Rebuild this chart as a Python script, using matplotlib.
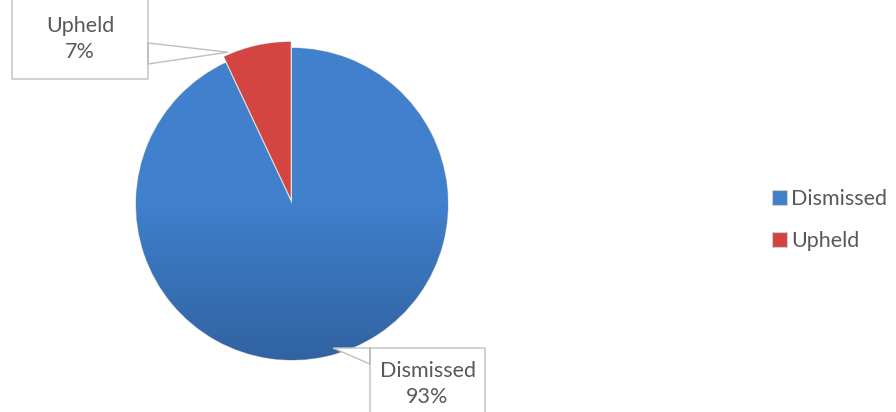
import numpy as np
import matplotlib.pyplot as plt
from matplotlib.patches import Polygon

# データ
labels = ['Dismissed', 'Upheld']
values = [93, 7]
colors = ['#4080CC', '#D44542']
dark = ['#30619F', '#A82D2B']

W, H = 896, 412
fig = plt.figure(figsize=(W / 100, H / 100), dpi=100)
ax = fig.add_axes([0, 0, 1, 1])

cx, cy, r = 292, H - 204, 156
wedges, _ = ax.pie(values, colors=colors, startangle=90, counterclock=False,
                   center=(cx, cy), radius=r, explode=[0, 0.04 * r],
                   wedgeprops=dict(edgecolor='#cfcfcf', linewidth=0.8))

# 縦グラデーションでそれっぽく
grad = np.linspace(0, 1, 256).reshape(-1, 1)
for w, c1, c2 in zip(wedges, colors, dark):
    cmap = plt.matplotlib.colors.LinearSegmentedColormap.from_list('g', [c2, c1, c1])
    im = ax.imshow(grad, cmap=cmap, origin='lower', aspect='auto',
                   extent=(cx - r - 10, cx + r + 10, cy - r - 10, cy + r + 15), zorder=1.5)
    im.set_clip_path(w)

ax.set_xlim(0, W)
ax.set_ylim(0, H)
ax.set_aspect('auto')
ax.axis('off')

# 吹き出し
def callout(box, tip, base, text):
    x0, x1, y0, y1 = box
    if base[0] == x1:  # 右側から
        pts = [(x0, y1), (x1, y1), (x1, base[1]), tip, (x1, base[2]), (x1, y0), (x0, y0)]
    else:
        pts = [(x0, y1), (x1, y1), (x1, y0), (x0, y0), (x0, base[2]), tip, (x0, base[1])]
    ax.add_patch(Polygon(pts, closed=True, facecolor='white', edgecolor='#bfbfbf',
                         linewidth=1, zorder=3))
    ax.text((x0 + x1) / 2, text[1], text[0], ha='center', va='center',
            fontsize=15.5, color='#595959', family='Lato', zorder=4, linespacing=1.35)

# Upheld
a = np.deg2rad(90 + values[1] / 100 * 360)
tip_u = (cx + r * 1.04 * np.cos(a) + 5, cy + r * 1.04 * np.sin(a) + 5)
callout((12, 148, H - 79, H + 5), tip_u, (148, H - 64, H - 43),
        ('Upheld\n7%', H - 39))

# Dismissed
tip_d = (333, H - 348)
callout((370, 485, -5, H - 348), tip_d, (370, H - 364, H - 348),
        ('Dismissed\n93%', H - 384))

leg = ax.legend(wedges, labels, loc='center left', bbox_to_anchor=(772 / W, 1 - 220 / H),
                frameon=False, handlelength=0.7, handleheight=0.7, handletextpad=0.2,
                labelspacing=1.0, borderpad=0, borderaxespad=0,
                prop={'family': 'Lato', 'size': 15.5})
for t in leg.get_texts():
    t.set_color('#595959')

plt.savefig('out.png', dpi=100)
